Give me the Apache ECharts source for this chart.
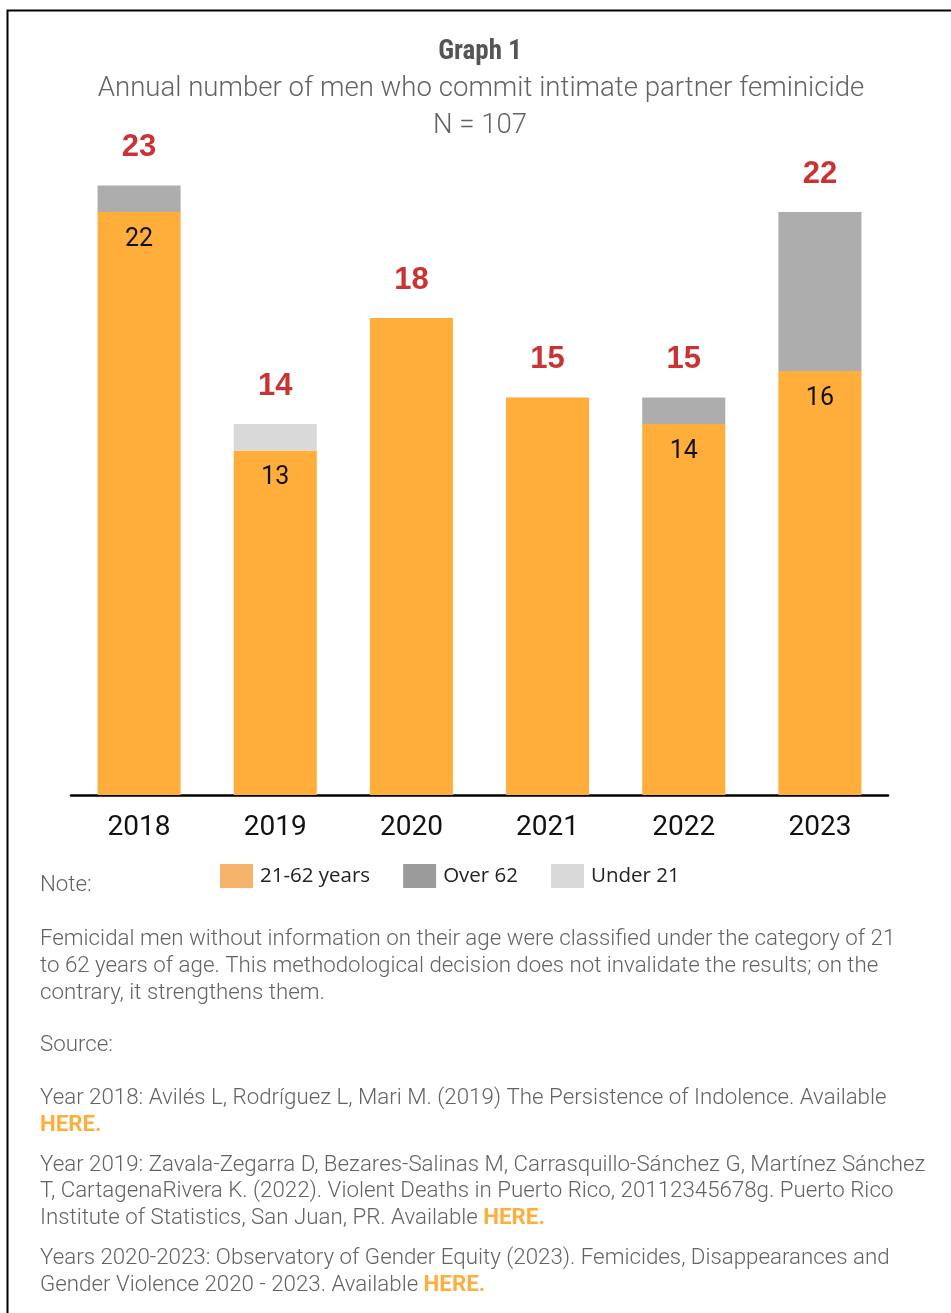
<!DOCTYPE html>
<html>
<head>
<meta charset="utf-8">
<script src="https://cdn.jsdelivr.net/npm/echarts@6/dist/echarts.min.js"></script>
<style>
html,body{margin:0;padding:0;background:#fff;}
#chart{width:951px;height:1313px;}
</style>
</head>
<body>
<div id="chart"></div>
<script>
// ---- data ----
var years = ['2018', '2019', '2020', '2021', '2022', '2023'];
var age21to62 = [22, 13, 18, 15, 14, 16];
var over62 = [1, 0, 0, 0, 1, 6];
var under21 = [0, 1, 0, 0, 0, 0];
var seriesNames = ['21-62 years', 'Over 62', 'Under 21'];
var totals = years.map(function (y, i) { return age21to62[i] + over62[i] + under21[i]; });

var titleText = 'Graph 1';
var subtitleText = 'Annual number of men who commit intimate partner feminicide';
var nText = 'N = 107';

var chart = echarts.init(document.getElementById('chart'), null, {renderer: 'canvas'});

var grayText = '#636363';
var bodyFont = 'Roboto';
var bodySize = 22.3;
var orange = '#FFAE3B';

var option = {
  backgroundColor: '#ffffff',
  animation: false,
  grid: {left: 71, right: 63, top: 132.5, bottom: 518, containLabel: false},
  xAxis: {
    type: 'category',
    data: years,
    axisLine: {show: true, lineStyle: {color: '#000', width: 2.5}},
    axisTick: {show: false},
    axisLabel: {color: '#111', fontSize: 28, fontFamily: 'Roboto', margin: 19}
  },
  yAxis: {
    type: 'value', min: 0, max: 25,
    show: false, splitLine: {show: false}
  },
  legend: {
    left: 220, top: 864, padding: 0,
    itemWidth: 33, itemHeight: 24, itemGap: 33,
    icon: 'rect',
    textStyle: {fontFamily: 'Open Sans', fontSize: 20.5, color: '#222', padding: [0, 0, 0, 2]},
    data: [
      {name: seriesNames[0], itemStyle: {color: '#F5B36C'}},
      {name: seriesNames[1], itemStyle: {color: '#9B9B9B'}},
      {name: seriesNames[2], itemStyle: {color: '#D9D9D9'}}
    ]
  },
  series: [
    {
      name: seriesNames[0], type: 'bar', stack: 'a', barWidth: '61%',
      itemStyle: {color: orange},
      data: age21to62,
      label: {
        show: true, position: 'insideTop', distance: 15,
        fontSize: 25, fontFamily: 'Roboto', color: '#111',
        formatter: function (p) {
          var i = p.dataIndex;
          return (over62[i] + under21[i]) > 0 ? String(p.value) : '';
        }
      }
    },
    {
      name: seriesNames[1], type: 'bar', stack: 'a', barWidth: '61%',
      itemStyle: {color: '#ADADAD'},
      data: over62
    },
    {
      name: seriesNames[2], type: 'bar', stack: 'a', barWidth: '61%',
      itemStyle: {color: '#D9D9D9'},
      data: under21
    },
    {
      name: 'Total', type: 'scatter', symbolSize: 1,
      itemStyle: {color: 'rgba(0,0,0,0)'},
      data: totals,
      z: 10,
      label: {
        show: true, position: 'top', distance: 22,
        fontSize: 31, fontWeight: 'bold', fontFamily: 'Liberation Sans', color: '#BC0000',
        formatter: function (p) { return String(p.value); }
      }
    }
  ],
  graphic: [
    {type: 'polyline', shape: {points: [[7.5, 1313], [7.5, 10.5], [951, 10.5]]},
      style: {stroke: '#000', lineWidth: 2, fill: null}},
    {type: 'text', x: 480, y: 39,
      style: {text: titleText, fontSize: 27, fontWeight: 'bold', fontFamily: 'Roboto Condensed, Roboto', fill: '#555', textAlign: 'center'}},
    {type: 'text', x: 481, y: 75,
      style: {text: subtitleText, fontSize: 27.6, fontWeight: 300, fontFamily: 'Roboto', fill: grayText, textAlign: 'center'}},
    {type: 'text', x: 480, y: 112,
      style: {text: nText, fontSize: 27.6, fontWeight: 300, fontFamily: 'Roboto', fill: grayText, textAlign: 'center'}},
    {type: 'text', left: 40, top: 872,
      style: {text: 'Note:', fontSize: bodySize, fontWeight: 300, fontFamily: bodyFont, fill: grayText, lineHeight: 27}},
    {type: 'text', left: 40, top: 926,
      style: {text: 'Femicidal men without information on their age were classified under the category of 21\nto 62 years of age. This methodological decision does not invalidate the results; on the\ncontrary, it strengthens them.',
        fontSize: bodySize, fontWeight: 300, fontFamily: bodyFont, fill: grayText, lineHeight: 27}},
    {type: 'text', left: 40, top: 1032,
      style: {text: 'Source:', fontSize: bodySize, fontWeight: 300, fontFamily: bodyFont, fill: grayText, lineHeight: 27}},
    {type: 'text', left: 40, top: 1085,
      style: {text: 'Year 2018: Avilés L, Rodríguez L, Mari M. (2019) The Persistence of Indolence. Available\n{h|HERE.}',
        fontSize: bodySize, fontWeight: 300, fontFamily: bodyFont, fill: grayText, lineHeight: 27,
        rich: {h: {fontSize: bodySize, fontWeight: 'bold', fontFamily: bodyFont, fill: orange, lineHeight: 27}}}},
    {type: 'text', left: 40, top: 1152,
      style: {text: 'Year 2019: Zavala-Zegarra D, Bezares-Salinas M, Carrasquillo-Sánchez G, Martínez Sánchez\nT, CartagenaRivera K. (2022). Violent Deaths in Puerto Rico, 20112345678g. Puerto Rico\nInstitute of Statistics, San Juan, PR. Available {h|HERE.}',
        fontSize: bodySize, fontWeight: 300, fontFamily: bodyFont, fill: grayText, lineHeight: 26.5,
        rich: {h: {fontSize: bodySize, fontWeight: 'bold', fontFamily: bodyFont, fill: orange, lineHeight: 26.5}}}},
    {type: 'text', left: 40, top: 1245,
      style: {text: 'Years 2020-2023: Observatory of Gender Equity (2023). Femicides, Disappearances and\nGender Violence 2020 - 2023. Available {h|HERE.}',
        fontSize: bodySize, fontWeight: 300, fontFamily: bodyFont, fill: grayText, lineHeight: 27,
        rich: {h: {fontSize: bodySize, fontWeight: 'bold', fontFamily: bodyFont, fill: orange, lineHeight: 27}}}}
  ]
};
chart.setOption(option);
</script>
</body>
</html>
